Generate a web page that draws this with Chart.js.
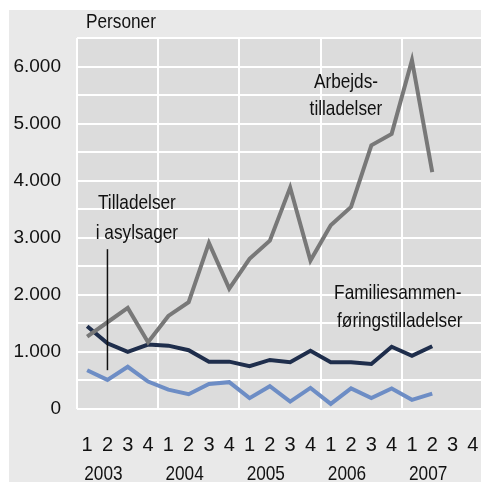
<!DOCTYPE html>
<html>
<head>
<meta charset="utf-8">
<script src="https://cdn.jsdelivr.net/npm/chart.js@4/dist/chart.umd.min.js"></script>
<style>
  html, body { margin: 0; padding: 0; background: #fff; overflow: hidden; }
  #wrap { position: absolute; left: 0; top: 0; width: 484px; height: 482px; }
</style>
</head>
<body>
<div id="wrap"><canvas id="c"></canvas></div>
<script>
// quarters 2003 Q1 .. 2007 Q4
const years = ['2003', '2004', '2005', '2006', '2007'];
const quarters = ['1', '2', '3', '4'];

// Arbejdstilladelser
const arbejds = [1270, 1520, 1770, 1170, 1630, 1870, 2910, 2110, 2630, 2950, 3880, 2600, 3220, 3540, 4620, 4820, 6110, 4150];
// Familiesammenføringstilladelser
const familie = [1450, 1150, 1000, 1130, 1110, 1030, 830, 830, 750, 860, 820, 1020, 820, 820, 790, 1090, 930, 1100];
// Tilladelser i asylsager
const asyl = [680, 510, 740, 480, 340, 260, 440, 470, 190, 400, 130, 370, 90, 360, 190, 360, 160, 270];

const yTicks = { min: 0, max: 6500, step: 500 };

const labels = [];
years.forEach(y => quarters.forEach(q => labels.push(q)));

const FONT = "'Liberation Sans', Arial, sans-serif";
const SQUEEZE = 0.82; // the original uses a condensed face

function fmt(v) {
    return String(v).replace(/\B(?=(\d{3})+(?!\d))/g, '.');
}

// text notes placed in data units (category index, value)
const notes = [
    { text: 'Arbejds-', x: 12.75, y: 5720 },
    { text: 'tilladelser', x: 12.75, y: 5260 },
    { text: 'Tilladelser', x: 2.45, y: 3600 },
    { text: 'i asylsager', x: 2.45, y: 3080 },
    { text: 'Familiesammen-', x: 15.3, y: 2030 },
    { text: 'føringstilladelser', x: 15.4, y: 1540 }
];

function narrowText(ctx, text, x, y) {
    ctx.save();
    ctx.translate(x, y);
    ctx.scale(SQUEEZE, 1);
    ctx.fillText(text, 0, 0);
    ctx.restore();
}

const background = {
    id: 'background',
    beforeDraw(chart) {
        const ctx = chart.ctx;
        const a = chart.chartArea;
        ctx.save();
        ctx.fillStyle = '#ffffff';
        ctx.fillRect(0, 0, chart.width, chart.height);
        ctx.fillStyle = '#e9e9e9';
        ctx.fillRect(9, 10, chart.width, chart.height);
        ctx.fillStyle = '#dcdcdc';
        ctx.fillRect(a.left, a.top, a.right - a.left, a.bottom - a.top);
        ctx.restore();
    }
};

const annotations = {
    id: 'annotations',
    afterDraw(chart) {
        const ctx = chart.ctx;
        const xs = chart.scales.x, ys = chart.scales.y;
        ctx.save();
        ctx.font = '21px ' + FONT;
        ctx.fillStyle = '#111';
        ctx.textBaseline = 'middle';

        ctx.textAlign = 'left';
        narrowText(ctx, 'Personer', 86, 22);

        ctx.textAlign = 'center';
        for (const n of notes) {
            narrowText(ctx, n.text, xs.getPixelForValue(n.x), ys.getPixelForValue(n.y));
        }

        // year labels under the quarter ticks
        years.forEach((y, i) => {
            narrowText(ctx, y, xs.getPixelForValue(i * 4 + 0.8), 474);
        });

        // pointer line for asylsager
        ctx.strokeStyle = '#111';
        ctx.lineWidth = 1.5;
        ctx.beginPath();
        const px = xs.getPixelForValue(1);
        ctx.moveTo(px, ys.getPixelForValue(2800));
        ctx.lineTo(px, ys.getPixelForValue(680));
        ctx.stroke();
        ctx.restore();
    }
};

new Chart(document.getElementById('c'), {
    type: 'line',
    data: {
        labels: labels,
        datasets: [
            { label: 'Arbejdstilladelser', data: arbejds, borderColor: '#787878', borderWidth: 4 },
            { label: 'Familiesammenføringstilladelser', data: familie, borderColor: '#1f2e4c', borderWidth: 4 },
            { label: 'Tilladelser i asylsager', data: asyl, borderColor: '#6d8dc5', borderWidth: 4 }
        ]
    },
    options: {
        responsive: true,
        maintainAspectRatio: false,
        animation: false,
        devicePixelRatio: 1,
        layout: { padding: { left: 0, right: 1, top: 38, bottom: 0 } },
        elements: {
            point: { radius: 0 },
            line: { tension: 0, borderJoinStyle: 'miter', borderCapStyle: 'butt' }
        },
        plugins: { legend: { display: false }, tooltip: { enabled: false } },
        scales: {
            x: {
                offset: true,
                border: { display: false },
                grid: {
                    offset: true,
                    drawTicks: false,
                    lineWidth: 2,
                    color: ctx => (ctx.index % 4 === 0 ? '#ffffff' : 'rgba(0,0,0,0)')
                },
                ticks: {
                    autoSkip: false,
                    maxRotation: 0,
                    padding: 24,
                    color: '#111',
                    font: { family: FONT, size: 20 }
                },
                afterFit(scale) {
                    scale.height = 73;
                    scale.paddingLeft = 0;
                    scale.paddingRight = 0;
                }
            },
            y: {
                min: yTicks.min,
                max: yTicks.max,
                border: { display: false },
                grid: { color: '#ffffff', lineWidth: 2, drawTicks: false },
                ticks: {
                    stepSize: yTicks.step,
                    padding: 16,
                    color: '#111',
                    font: { family: FONT, size: 19 },
                    callback: v => (v % 1000 === 0 ? fmt(v) : '')
                },
                afterFit(scale) { scale.width = 77; }
            }
        }
    },
    plugins: [background, annotations]
});
</script>
</body>
</html>
